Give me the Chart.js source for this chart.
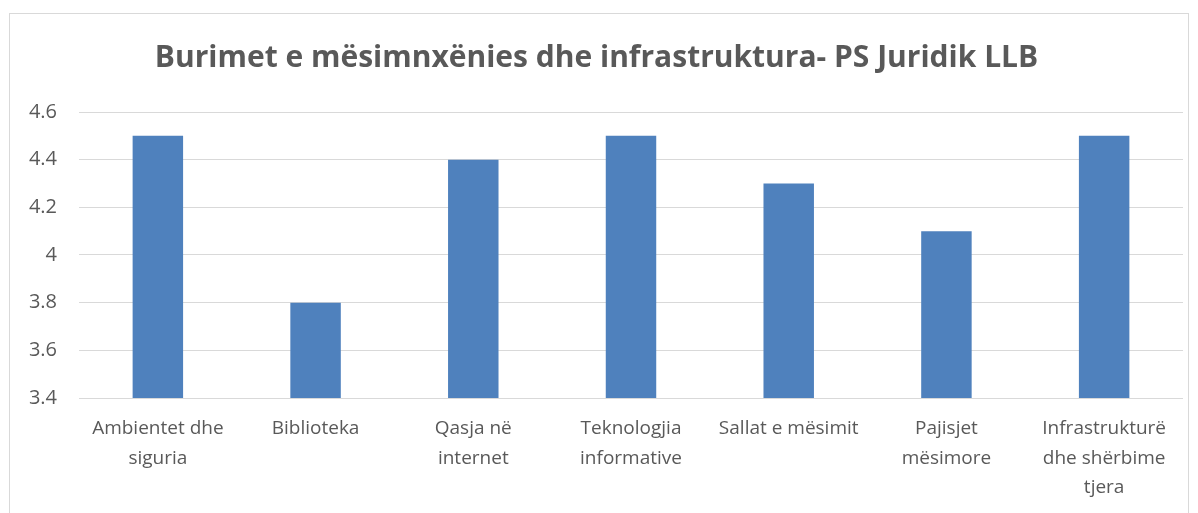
<!DOCTYPE html>
<html>
<head>
<meta charset="utf-8">
<script src="https://cdn.jsdelivr.net/npm/chart.js@4/dist/chart.umd.min.js"></script>
<style>
  html, body { margin: 0; padding: 0; background: #fff; }
  #box {
    position: absolute; left: 9px; top: 13px;
    width: 1178px; height: 510px;
    border: 1px solid #d9d9d9; border-bottom: none;
  }
</style>
</head>
<body>
<div id="box"><canvas id="chart"></canvas></div>
<script>
const categories = [
    ['Ambientet dhe', 'siguria'],
    ['Biblioteka'],
    ['Qasja në', 'internet'],
    ['Teknologjia', 'informative'],
    ['Sallat e mësimit'],
    ['Pajisjet', 'mësimore'],
    ['Infrastrukturë', 'dhe shërbime', 'tjera']
];
const scores = [4.5, 3.8, 4.4, 4.5, 4.3, 4.1, 4.5];
const yMin = 3.4;
const yMax = 4.6;
const yStep = 0.2;

const ctx = document.getElementById('chart').getContext('2d');
new Chart(ctx, {
    type: 'bar',
    data: {
        labels: categories,
        datasets: [{
            label: 'Burimet',
            data: scores,
            backgroundColor: '#4f81bd',
            barPercentage: 0.32,
            categoryPercentage: 1
        }]
    },
    options: {
        responsive: true,
        maintainAspectRatio: false,
        animation: false,
        layout: { padding: { top: 20, right: 5, bottom: 0, left: 0 } },
        plugins: {
            legend: { display: false },
            tooltip: { enabled: false },
            title: {
                display: true,
                text: 'Burimet e mësimnxënies dhe infrastruktura- PS Juridik LLB',
                color: '#595959',
                font: { family: 'Open Sans', size: 30, weight: 'bold' },
                padding: { top: 6, bottom: 36 }
            }
        },
        scales: {
            x: {
                grid: { display: false },
                border: { display: false },
                afterFit: (scale) => { scale.height = 126; },
                ticks: {
                    color: '#595959',
                    font: { family: 'Open Sans', size: 19, lineHeight: 1.55 },
                    maxRotation: 0,
                    autoSkip: false,
                    padding: 8
                }
            },
            y: {
                min: yMin,
                max: yMax,
                grid: { color: '#d9d9d9', drawTicks: false },
                border: { display: false },
                afterFit: (scale) => { scale.width = 69; },
                ticks: {
                    stepSize: yStep,
                    color: '#595959',
                    font: { family: 'Open Sans', size: 20 },
                    padding: 22,
                    callback: (v) => String(+v.toFixed(1))
                }
            }
        }
    }
});
</script>
</body>
</html>
